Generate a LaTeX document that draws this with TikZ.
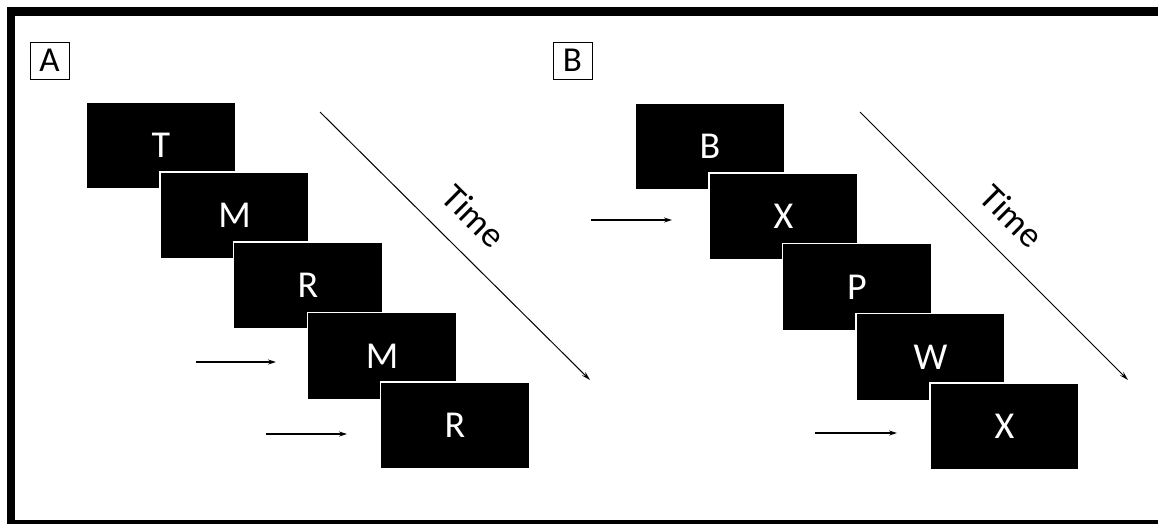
\documentclass[tikz,border=0pt]{standalone}
\usepackage{fontspec}
\setmainfont{Carlito}
\usetikzlibrary{arrows.meta}
\tikzset{
  frame/.style={black, line width=8.4pt},
  screen/.style={fill=black, draw=white, line width=1.3pt, minimum width=149pt, minimum height=87pt,
    inner sep=0pt, text=white, font=\fontsize{38}{40}\selectfont},
  panellabel/.style={draw=black, line width=0.9pt, minimum width=39pt, minimum height=37pt, inner sep=0pt,
    font=\fontsize{35}{37}\selectfont},
  cue/.style={line width=1.1pt, -{Stealth[length=8pt,width=5pt]}},
  timearrow/.style={line width=1pt, -{Stealth[length=9pt,width=5pt]}},
  timelabel/.style={rotate=-44.8, inner sep=0pt, font=\fontsize{36}{38}\selectfont}
}
\begin{document}
\begin{tikzpicture}[x=1pt,y=-1pt]
\useasboundingbox (0,0) rectangle (1158,523);
% outer frame (right side cropped, bottom partly cropped)
\draw[frame] (1170,11.5) -- (11,11.5) -- (11,524) -- (1170,524);
% labels
\node[panellabel] (labA) at (49.5,60.5) {A};
\node[panellabel] (labB) at (572.5,60.5) {B};
% panel A
\node[screen] (a1) at (161,145.5) {T};
\node[screen] (a2) at (234.5,215.5) {M};
\node[screen] (a3) at (308,285.5) {R};
\node[screen] (a4) at (382,356) {M};
\node[screen] (a5) at (455,425.5) {R};
\coordinate (ta0) at (320,112);
\coordinate (ta1) at (590,380);
\draw[timearrow] (ta0) -- (ta1);
\node[timelabel] (timeA) at (474,216) {Time};
\coordinate (ca1s) at (196,362);
\coordinate (ca1e) at (276,362);
\coordinate (ca2s) at (266,434);
\coordinate (ca2e) at (347,434);
\draw[cue] (ca1s) -- (ca1e);
\draw[cue] (ca2s) -- (ca2e);
% panel B
\node[screen] (b1) at (710,146.5) {B};
\node[screen] (b2) at (783.5,216.5) {X};
\node[screen] (b3) at (857,287) {P};
\node[screen] (b4) at (930.5,357) {W};
\node[screen] (b5) at (1004.5,426.5) {X};
\coordinate (tb0) at (860,112);
\coordinate (tb1) at (1128,380);
\draw[timearrow] (tb0) -- (tb1);
\node[timelabel] (timeB) at (1012,216) {Time};
\coordinate (cb1s) at (591,220);
\coordinate (cb1e) at (672,220);
\coordinate (cb2s) at (815,433);
\coordinate (cb2e) at (897,433);
\draw[cue] (cb1s) -- (cb1e);
\draw[cue] (cb2s) -- (cb2e);
\end{tikzpicture}
\end{document}
